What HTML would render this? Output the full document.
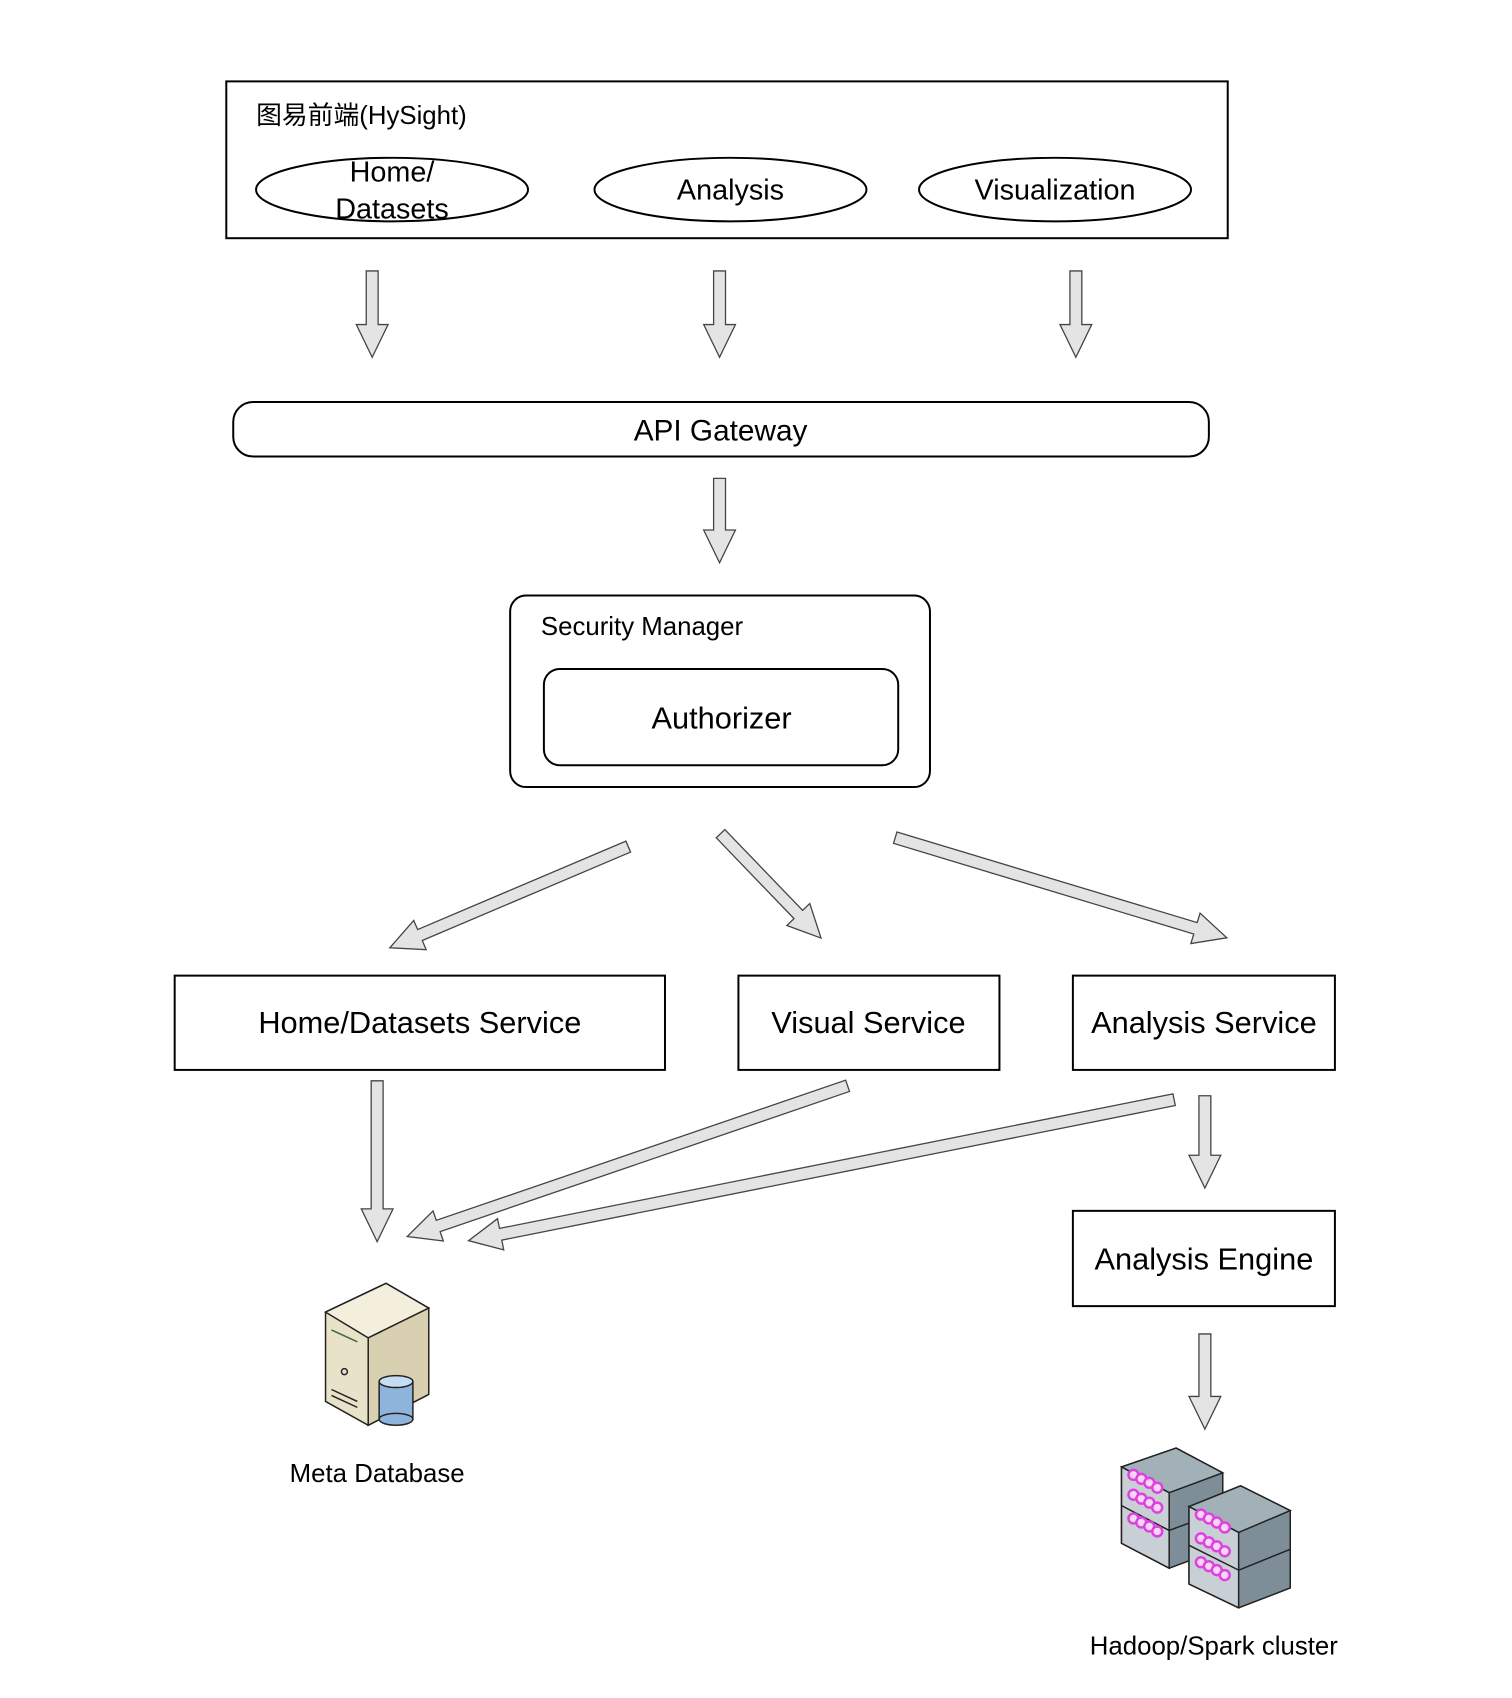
<!DOCTYPE html>
<html><head><meta charset="utf-8"><style>
html,body{margin:0;padding:0;background:#fff;}
svg{display:block}
text{font-family:"Liberation Sans","Noto Sans CJK SC",sans-serif;fill:#000}
.ar{fill:#e4e4e4;stroke:#444;stroke-width:1.3}
</style></head><body>
<svg width="1512" height="1698" viewBox="0 0 1512 1698" xmlns="http://www.w3.org/2000/svg">
<g transform="scale(0.9925)">
<!-- top frontend box -->
<rect x="228" y="82" width="1009" height="158" fill="#fff" stroke="#000" stroke-width="2"/>
<text x="258" y="125" font-size="26">图易前端(HySight)</text>
<ellipse cx="395" cy="191" rx="137" ry="32" fill="#fff" stroke="#000" stroke-width="2"/>
<text x="395" y="183" font-size="29" text-anchor="middle">Home/</text>
<text x="395" y="220" font-size="29" text-anchor="middle">Datasets</text>
<ellipse cx="736" cy="191" rx="137" ry="32" fill="#fff" stroke="#000" stroke-width="2"/>
<text x="736" y="201" font-size="29" text-anchor="middle">Analysis</text>
<ellipse cx="1063" cy="191" rx="137" ry="32" fill="#fff" stroke="#000" stroke-width="2"/>
<text x="1063" y="201" font-size="29" text-anchor="middle">Visualization</text>

<g class="ar">
<polygon transform="translate(375,273) rotate(90)" points="0,-6 54,-6 54,-16 87,0 54,16 54,6 0,6"/>
<polygon transform="translate(725,273) rotate(90)" points="0,-6 54,-6 54,-16 87,0 54,16 54,6 0,6"/>
<polygon transform="translate(1084,273) rotate(90)" points="0,-6 54,-6 54,-16 87,0 54,16 54,6 0,6"/>
<polygon transform="translate(725,482) rotate(90)" points="0,-6 52,-6 52,-16 85,0 52,16 52,6 0,6"/>
<polygon transform="translate(633,853) rotate(157)" points="0,-6 228,-6 228,-16 261,0 228,16 228,6 0,6"/>
<polygon transform="translate(726,840) rotate(46.1)" points="0,-6 113,-6 113,-16 146,0 113,16 113,6 0,6"/>
<polygon transform="translate(902,844) rotate(16.8)" points="0,-6 316,-6 316,-16 349,0 316,16 316,6 0,6"/>
<polygon transform="translate(380,1089) rotate(90)" points="0,-6 129,-6 129,-16 162,0 129,16 129,6 0,6"/>
<polygon transform="translate(854,1094) rotate(161.1)" points="0,-6 436,-6 436,-16 469,0 436,16 436,6 0,6"/>
<polygon transform="translate(1183,1108) rotate(168.7)" points="0,-6 692,-6 692,-16 725,0 692,16 692,6 0,6"/>
<polygon transform="translate(1214,1104) rotate(90)" points="0,-6 60,-6 60,-16 93,0 60,16 60,6 0,6"/>
<polygon transform="translate(1214,1344) rotate(90)" points="0,-6 63,-6 63,-16 96,0 63,16 63,6 0,6"/>
</g>

<rect x="235" y="405" width="983" height="55" rx="20" fill="#fff" stroke="#000" stroke-width="2"/>
<text x="726" y="444" font-size="30" text-anchor="middle">API Gateway</text>

<rect x="514" y="600" width="423" height="193" rx="16" fill="#fff" stroke="#000" stroke-width="2"/>
<text x="545" y="640" font-size="26">Security Manager</text>
<rect x="548" y="674" width="357" height="97" rx="16" fill="#fff" stroke="#000" stroke-width="2"/>
<text x="727" y="734" font-size="31" text-anchor="middle">Authorizer</text>

<rect x="176" y="983" width="494" height="95" fill="#fff" stroke="#000" stroke-width="2"/>
<text x="423" y="1041" font-size="31" text-anchor="middle">Home/Datasets Service</text>
<rect x="744" y="983" width="263" height="95" fill="#fff" stroke="#000" stroke-width="2"/>
<text x="875" y="1041" font-size="31" text-anchor="middle">Visual Service</text>
<rect x="1081" y="983" width="264" height="95" fill="#fff" stroke="#000" stroke-width="2"/>
<text x="1213" y="1041" font-size="31" text-anchor="middle">Analysis Service</text>
<rect x="1081" y="1220" width="264" height="96" fill="#fff" stroke="#000" stroke-width="2"/>
<text x="1213" y="1279" font-size="31" text-anchor="middle">Analysis Engine</text>

<g stroke="#222" stroke-width="1.5">
<polygon points="328,1322 389,1293 432,1318 432,1405 371,1436 328,1412" fill="#e8e2c8"/>
<polygon points="328,1322 389,1293 432,1318 371,1348" fill="#f4efdc"/>
<polygon points="371,1348 432,1318 432,1405 371,1436" fill="#d8d0b0"/>
<line x1="334" y1="1340" x2="360" y2="1352" stroke="#3a6a3a"/>
<circle cx="347" cy="1382" r="3" fill="none"/>
<line x1="334" y1="1400" x2="360" y2="1412"/>
<line x1="334" y1="1406" x2="360" y2="1418"/>
<rect x="382" y="1392" width="34" height="38" fill="#8fb4dc"/>
<ellipse cx="399" cy="1430" rx="17" ry="6" fill="#8fb4dc"/>
<ellipse cx="399" cy="1392" rx="17" ry="6" fill="#c5dcf2"/>
</g>
<text x="380" y="1493" font-size="26" text-anchor="middle">Meta Database</text>

<g stroke="#222" stroke-width="1.5">
<polygon points="1130,1478 1185,1459 1232,1484 1232,1560 1178,1580 1130,1555" fill="#7d8e98"/>
<polygon points="1130,1478 1185,1459 1232,1484 1178,1504" fill="#a2b0b8"/>
<polygon points="1130,1478 1178,1504 1178,1580 1130,1555" fill="#c8d0d6"/>
<line x1="1130" y1="1517" x2="1178" y2="1542"/>
<line x1="1178" y1="1542" x2="1232" y2="1522"/>
<polygon points="1198,1518 1250,1497 1300,1522 1300,1600 1248,1620 1198,1596" fill="#7d8e98"/>
<polygon points="1198,1518 1250,1497 1300,1522 1248,1544" fill="#a2b0b8"/>
<polygon points="1198,1518 1248,1544 1248,1620 1198,1596" fill="#c8d0d6"/>
<line x1="1198" y1="1557" x2="1248" y2="1582"/>
<line x1="1248" y1="1582" x2="1300" y2="1561"/>
</g>
<g fill="#f6d8f6" stroke="#e040e0" stroke-width="2.5">
<circle cx="1142" cy="1486" r="5"/><circle cx="1150" cy="1490" r="5"/><circle cx="1158" cy="1494" r="5"/><circle cx="1166" cy="1499" r="5"/>
<circle cx="1142" cy="1506" r="5"/><circle cx="1150" cy="1510" r="5"/><circle cx="1158" cy="1514" r="5"/><circle cx="1166" cy="1519" r="5"/>
<circle cx="1142" cy="1530" r="5"/><circle cx="1150" cy="1534" r="5"/><circle cx="1158" cy="1538" r="5"/><circle cx="1166" cy="1543" r="5"/>
<circle cx="1210" cy="1526" r="5"/><circle cx="1218" cy="1530" r="5"/><circle cx="1226" cy="1534" r="5"/><circle cx="1234" cy="1539" r="5"/>
<circle cx="1210" cy="1550" r="5"/><circle cx="1218" cy="1554" r="5"/><circle cx="1226" cy="1558" r="5"/><circle cx="1234" cy="1563" r="5"/>
<circle cx="1210" cy="1574" r="5"/><circle cx="1218" cy="1578" r="5"/><circle cx="1226" cy="1582" r="5"/><circle cx="1234" cy="1587" r="5"/>
</g>
<text x="1223" y="1667" font-size="26" text-anchor="middle">Hadoop/Spark cluster</text>
</g>
</svg>
</body></html>
